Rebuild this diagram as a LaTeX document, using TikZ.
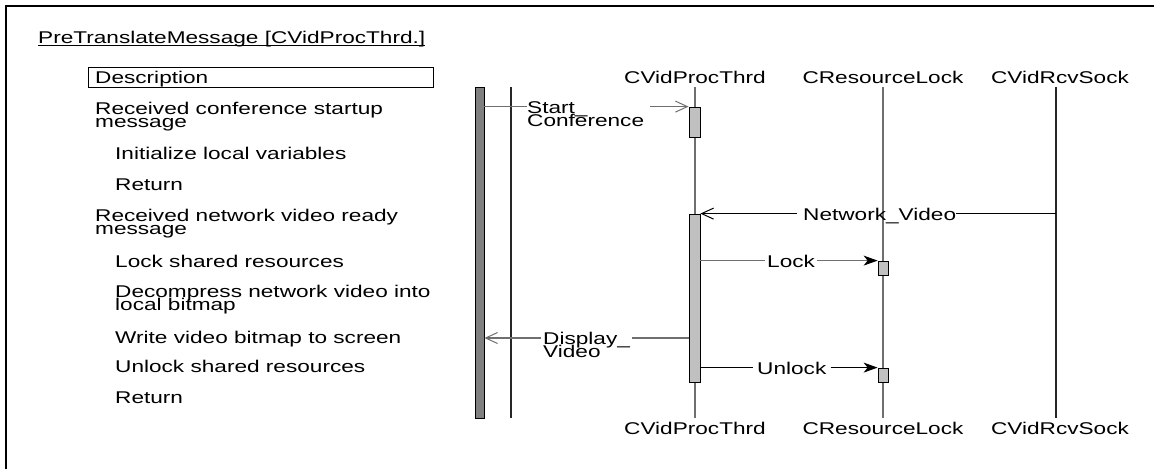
\documentclass[tikz,border=0pt]{standalone}
\usepackage{fontspec}
\setmainfont{Liberation Sans}[FakeStretch=1.33]
\usetikzlibrary{arrows.meta}

% two stacked lines; the box baseline is that of the first line
\newcommand\twoln[2]{\vtop{\baselineskip=13pt\lineskiplimit=-100pt\hbox{#1}\hbox{#2}}}

\definecolor{lifegray}{HTML}{6F6F6F}
\definecolor{actgray}{HTML}{C0C0C0}
\definecolor{bargray}{HTML}{808080}

\begin{document}
\begin{tikzpicture}[x=1pt,y=-1pt,
  every node/.style={font=\fontsize{17}{13}\selectfont},
  txt/.style={anchor=base west, inner sep=0pt},
  hdr/.style={anchor=base, inner sep=0pt},
  lbl/.style={anchor=base west, inner ysep=0pt, inner xsep=2pt},
  life/.style={line width=1.2pt, draw=lifegray},
  lifedark/.style={line width=1.2pt, draw=black!85},
  act/.style={draw=black, line width=0.8pt, fill=actgray, minimum width=11pt, inner sep=0pt},
  lockact/.style={act, minimum width=10pt},
  srcbar/.style={draw=black, line width=0.8pt, fill=bargray, minimum width=9pt, inner sep=0pt},
  gmsg/.style={line width=1.1pt, draw=lifegray},
  bmsg/.style={line width=1.1pt, draw=black},
  openhead/.style={-{Straight Barb[length=12pt,width=11pt,line width=1pt]}},
  fillhead/.style={-{Stealth[length=14pt,width=10pt,inset=4pt,color=black]}},
]
\useasboundingbox (0,0) rectangle (1154,469);

% outer frame (top and left edges)
\draw[line width=2pt] (6,469) -- (6,6) -- (1154,6);

% title
\node[txt] (title) at (38,43) {PreTranslateMessage [CVidProcThrd.]};
\draw[line width=0.8pt] ([yshift=-2.5pt]title.base west) -- ([yshift=-2.5pt]title.base east);

% description column
\node[draw, line width=0.8pt, anchor=north west, inner sep=0pt,
      minimum width=345pt, minimum height=20pt] (descbox) at (88,67) {};
\node[txt] (desc) at (95,83) {Description};
\node[txt] (d1) at (95,114) {\twoln{Received conference startup}{message}};
\node[txt] (d2) at (115,159) {Initialize local variables};
\node[txt] (d3) at (115,190) {Return};
\node[txt] (d4) at (95,221) {\twoln{Received network video ready}{message}};
\node[txt] (d5) at (115,267) {Lock shared resources};
\node[txt] (d6) at (115,297) {\twoln{Decompress network video into}{local bitmap}};
\node[txt] (d7) at (115,343) {Write video bitmap to screen};
\node[txt] (d8) at (115,372) {Unlock shared resources};
\node[txt] (d9) at (115,403) {Return};

% object headers and footers
\node[hdr] (h1) at (695,83) {CVidProcThrd};
\node[hdr] (h2) at (883,83) {CResourceLock};
\node[hdr] (h3) at (1060,83) {CVidRcvSock};
\node[hdr] (f1) at (695,434) {CVidProcThrd};
\node[hdr] (f2) at (883,434) {CResourceLock};
\node[hdr] (f3) at (1060,434) {CVidRcvSock};

% lifelines
\coordinate (p1t) at (695,87);  \coordinate (p1b) at (695,418);
\coordinate (p2t) at (883,87);  \coordinate (p2b) at (883,418);
\coordinate (p3t) at (1056,87); \coordinate (p3b) at (1056,418);
\coordinate (p0t) at (511,87);  \coordinate (p0b) at (511,418);
\draw[life] (p1t) -- (p1b);
\draw[life] (p2t) -- (p2b);
\draw[lifedark] (p3t) -- (p3b);
\draw[lifedark] (p0t) -- (p0b);

% caller bar and activations
\node[srcbar, minimum height=331pt] (src) at (479.5,252.5) {};
\node[act, minimum height=30pt] (a1) at (694.5,122) {};
\node[act, minimum height=168pt] (a2) at (694.5,298) {};
\node[lockact, minimum height=14pt] (k1) at (883,268) {};
\node[lockact, minimum height=14pt] (k2) at (883,375) {};

% Start_Conference
\node[lbl, inner xsep=0pt] (lstart) at (527,113) {\twoln{Start\_}{Conference}};
\draw[gmsg] (src.east |- a1.north) -- (lstart.west |- a1.north);
\draw[gmsg, openhead] ([xshift=6pt]lstart.east |- a1.north) -- (a1.north west);

% Network_Video
\node[lbl, inner xsep=0pt] (lnet) at (803,220) {Network\_Video};
\draw[bmsg] (p3t |- a2.north) -- (lnet.east |- a2.north);
\draw[bmsg, openhead] ([xshift=-6pt]lnet.west |- a2.north) -- (a2.north east);

% Lock
\node[lbl] (llock) at (765,267) {Lock};
\draw[gmsg] (a2.east |- k1.north) -- (llock.west |- k1.north);
\draw[gmsg, fillhead] (llock.east |- k1.north) -- (k1.north west);

% Display_Video
\coordinate (dv) at (695,338);
\node[lbl] (ldisp) at (541,344) {\twoln{Display\_}{Video}};
\draw[gmsg] (a2.west |- dv) -- (ldisp.east |- dv);
\draw[gmsg, openhead] (ldisp.west |- dv) -- (src.east |- dv);

% Unlock
\node[lbl, inner xsep=4pt] (lunlock) at (753,374) {Unlock};
\draw[bmsg] (a2.east |- k2.north) -- (lunlock.west |- k2.north);
\draw[bmsg, fillhead] (lunlock.east |- k2.north) -- (k2.north west);
\end{tikzpicture}
\end{document}
